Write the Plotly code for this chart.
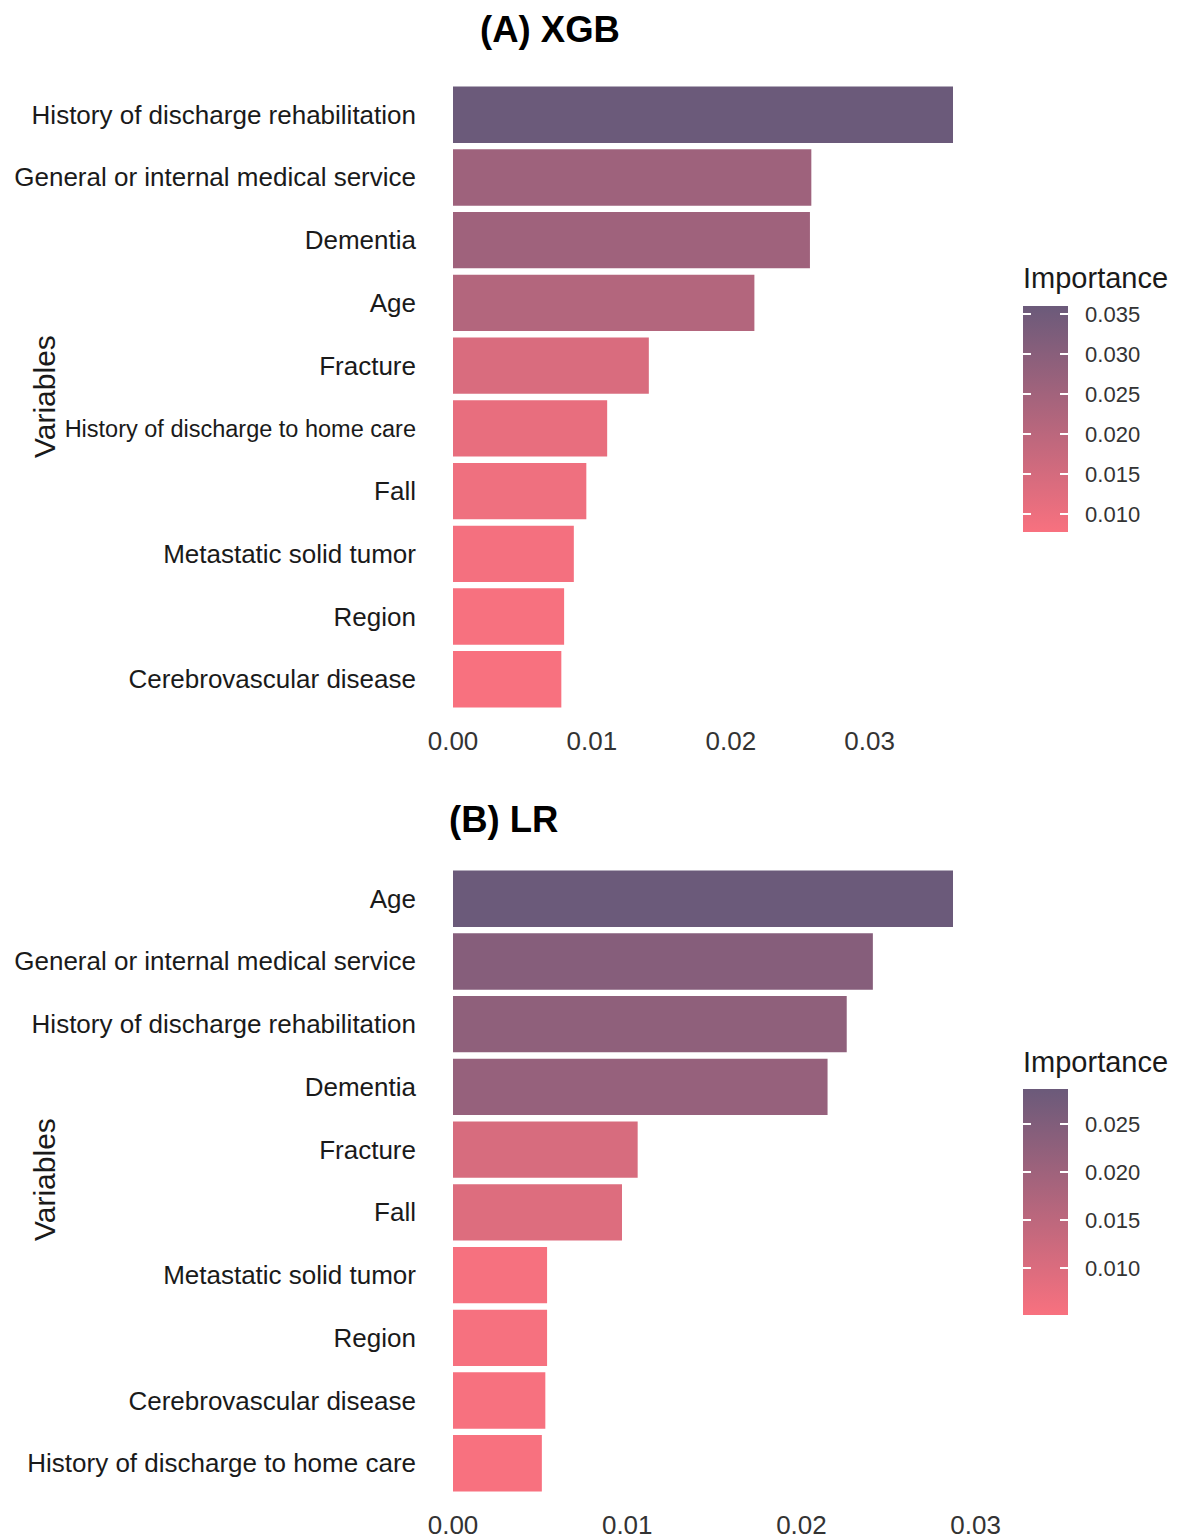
import plotly.graph_objects as go

# ---- data -------------------------------------------------------------
xgb_vars = [
    "History of discharge rehabilitation",
    "General or internal medical service",
    "Dementia",
    "Age",
    "Fracture",
    "History of discharge to home care",
    "Fall",
    "Metastatic solid tumor",
    "Region",
    "Cerebrovascular disease",
]
xgb_importance = [0.0360, 0.0258, 0.0257, 0.0217, 0.0141, 0.0111, 0.0096, 0.0087, 0.0080, 0.0078]

lr_vars = [
    "Age",
    "General or internal medical service",
    "History of discharge rehabilitation",
    "Dementia",
    "Fracture",
    "Fall",
    "Metastatic solid tumor",
    "Region",
    "Cerebrovascular disease",
    "History of discharge to home care",
]
lr_importance = [0.0287, 0.0241, 0.0226, 0.0215, 0.0106, 0.0097, 0.0054, 0.0054, 0.0053, 0.0051]

xgb_cbar_ticks = [0.010, 0.015, 0.020, 0.025, 0.030, 0.035]
lr_cbar_ticks = [0.010, 0.015, 0.020, 0.025]
x_ticks = [0.00, 0.01, 0.02, 0.03]

# ---- styling ------------------------------------------------------------
W, H = 1178, 1540
R_MARGIN = 200            # room on the right for the colour bars
PW = W - R_MARGIN         # width of the plotting "paper"
FONT = "Arial, Liberation Sans, sans-serif"
LOW, HIGH = "#F8717F", "#6B5A7A"
SCALE = [[0, LOW], [1, HIGH]]
CLEAR = [[0, "rgba(0,0,0,0)"], [1, "rgba(0,0,0,0)"]]
NBSP = "\u00a0"
CBAR_X, CBAR_W, CBAR_LEN, TICK_LEN = 1023, 45, 226, 8


def px_x(x):
    return x / PW


def px_y(y):
    return 1 - y / H


def cbar_common(cbar_top, cbar_ticks):
    return dict(
        title=dict(text=""),
        lenmode="pixels",
        len=CBAR_LEN,
        xanchor="left",
        xpad=0,
        y=px_y(cbar_top),
        yanchor="top",
        ypad=0,
        outlinewidth=0,
        bgcolor="rgba(0,0,0,0)",
        ticks="inside",
        ticklen=TICK_LEN,
        tickcolor="white",
        tickwidth=1.5,
        tickvals=cbar_ticks,
    )


def panel(vars_, vals, xref, yref, cbar_top, cbar_ticks, small_labels=()):
    vmin, vmax = min(vals), max(vals)
    main_cb = cbar_common(cbar_top, cbar_ticks)
    main_cb.update(
        thickness=CBAR_W,
        x=px_x(CBAR_X),
        ticktext=[NBSP * 2 + f"{v:.3f}" for v in cbar_ticks],
        tickfont=dict(family=FONT, size=22, color="#333333"),
    )
    bar = go.Bar(
        x=vals,
        y=vars_,
        orientation="h",
        width=0.9,
        xaxis=xref,
        yaxis=yref,
        marker=dict(
            color=vals,
            colorscale=SCALE,
            cmin=vmin,
            cmax=vmax,
            line=dict(width=0),
            colorbar=main_cb,
        ),
        showlegend=False,
        hoverinfo="x+y",
    )
    # transparent companion scale that only adds the white tick marks
    # on the left edge of the colour bar
    left_cb = cbar_common(cbar_top, cbar_ticks)
    left_cb.update(thickness=TICK_LEN, x=px_x(CBAR_X), showticklabels=False)
    ticks_trace = go.Scatter(
        x=vals,
        y=vars_,
        mode="markers",
        xaxis=xref,
        yaxis=yref,
        marker=dict(
            color=vals,
            colorscale=CLEAR,
            cmin=vmin,
            cmax=vmax,
            opacity=0,
            size=1,
            showscale=True,
            colorbar=left_cb,
        ),
        showlegend=False,
        hoverinfo="skip",
    )
    ticktext = [
        f'<span style="font-size:23.5px">{v}</span>' if v in small_labels else v
        for v in vars_
    ]
    return [bar, ticks_trace], ticktext


traces_a, ticks_a = panel(xgb_vars, xgb_importance, "x", "y", 306, xgb_cbar_ticks,
                          small_labels=("History of discharge to home care",))
traces_b, ticks_b = panel(lr_vars, lr_importance, "x2", "y2", 1089, lr_cbar_ticks)

fig = go.Figure(traces_a + traces_b)

n = len(xgb_vars)
xdom = [px_x(428), min(1.0, px_x(978))]


def xaxis_cfg(vals, anchor):
    vmax = max(vals)
    return dict(
        domain=xdom,
        anchor=anchor,
        range=[-0.05 * vmax, 1.05 * vmax],
        tickvals=x_ticks,
        ticktext=[f"{v:.2f}" for v in x_ticks],
        tickfont=dict(family=FONT, size=26, color="#333333"),
        showgrid=False,
        zeroline=False,
        showline=False,
        ticks="",
        ticklabelstandoff=6,
        automargin=False,
    )


def yaxis_cfg(vars_, ticktext, top, bottom, anchor):
    return dict(
        domain=[px_y(bottom), px_y(top)],
        anchor=anchor,
        type="category",
        categoryorder="array",
        categoryarray=vars_,
        tickvals=vars_,
        ticktext=ticktext,
        range=[n - 1 + 0.6, -0.6],
        tickfont=dict(family=FONT, size=26, color="#1a1a1a"),
        showgrid=False,
        zeroline=False,
        showline=False,
        ticks="",
        ticklabelstandoff=11,
        automargin=False,
    )


fig.update_layout(
    width=W,
    height=H,
    margin=dict(l=0, r=R_MARGIN, t=0, b=0, pad=0),
    paper_bgcolor="white",
    plot_bgcolor="white",
    font=dict(family=FONT, color="#1a1a1a"),
    xaxis=xaxis_cfg(xgb_importance, "y"),
    yaxis=yaxis_cfg(xgb_vars, ticks_a, 77, 717, "x"),
    xaxis2=xaxis_cfg(lr_importance, "y2"),
    yaxis2=yaxis_cfg(lr_vars, ticks_b, 861, 1501, "x2"),
)

titles = [("<b>(A) XGB</b>", 550, 30), ("<b>(B) LR</b>", 503, 820)]
for text, xc, yc in titles:
    fig.add_annotation(
        text=text, x=px_x(xc), y=px_y(yc), xref="paper", yref="paper",
        showarrow=False, xanchor="center", yanchor="middle",
        font=dict(family=FONT, size=36.5, color="black"),
    )

# axis titles
for yc in (397, 1180):
    fig.add_annotation(
        text="Variables", x=px_x(44), y=px_y(yc), xref="paper", yref="paper",
        showarrow=False, textangle=-90, xanchor="center", yanchor="middle",
        font=dict(family=FONT, size=30, color="#1a1a1a"),
    )

# legend titles
for yc in (278, 1062):
    fig.add_annotation(
        text="Importance", x=px_x(1021), y=px_y(yc), xref="paper", yref="paper",
        showarrow=False, xanchor="left", yanchor="middle",
        font=dict(family=FONT, size=29, color="#1a1a1a"),
    )

fig.write_html("out.html")
